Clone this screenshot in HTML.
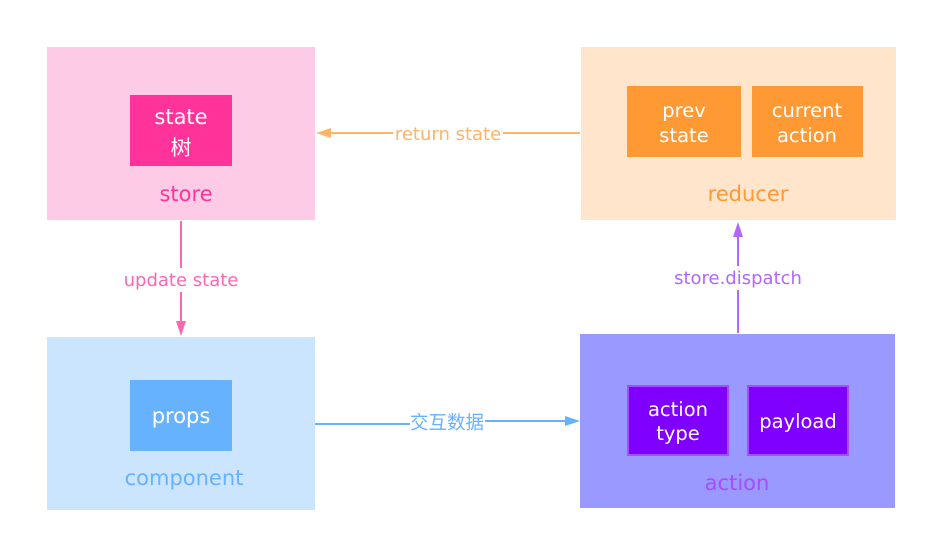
<!DOCTYPE html>
<html><head><meta charset="utf-8"><style>body{margin:0;background:#fff}svg{display:block}text{font-family:"DejaVu Sans","Noto Sans CJK SC",sans-serif;text-anchor:middle}</style></head><body>
<svg width="926" height="542" viewBox="0 0 926 542" xmlns="http://www.w3.org/2000/svg">
<rect x="47" y="47" width="268" height="173" fill="#fdcbe5"/>
<rect x="130" y="95" width="102" height="71" fill="#ff3399"/>
<text x="181" y="124" font-size="21" fill="#fff">state</text>
<text x="181" y="155" font-size="21" fill="#fff">树</text>
<text x="186" y="201" font-size="21" fill="#ff3399">store</text>

<rect x="581" y="47" width="315" height="173" fill="#ffe5cc"/>
<rect x="627" y="86" width="114" height="71" fill="#ff9933"/>
<rect x="752" y="86" width="111" height="71" fill="#ff9933"/>
<text x="684" y="117" font-size="19.5" fill="#fff">prev</text>
<text x="684" y="142" font-size="19.5" fill="#fff">state</text>
<text x="807" y="117" font-size="19.5" fill="#fff">current</text>
<text x="807" y="142" font-size="19.5" fill="#fff">action</text>
<text x="748" y="201" font-size="21" fill="#ff9933">reducer</text>

<rect x="47" y="337" width="268" height="173" fill="#cce5ff"/>
<rect x="130" y="380" width="102" height="71" fill="#66b2ff"/>
<text x="181" y="423" font-size="21" fill="#fff">props</text>
<text x="184" y="485" font-size="21" fill="#66b2ff">component</text>

<rect x="580" y="334" width="315" height="174" fill="#9999ff"/>
<rect x="628" y="386" width="100" height="69" fill="#7f00ff" stroke="#a64dff" stroke-width="2"/>
<rect x="748" y="386" width="100" height="69" fill="#7f00ff" stroke="#a64dff" stroke-width="2"/>
<text x="678" y="416" font-size="19.5" fill="#fff">action</text>
<text x="678" y="440" font-size="19.5" fill="#fff">type</text>
<text x="798" y="428" font-size="19.5" fill="#fff">payload</text>
<text x="737" y="490" font-size="21" fill="#a64dff">action</text>

<line x1="580" y1="133" x2="325" y2="133" stroke="#ffb366" stroke-width="2"/>
<polygon points="316,133 331,128 331,138" fill="#ffb366"/>
<rect x="393" y="122" width="110" height="22" fill="#fff"/>
<text x="448" y="140" font-size="18" fill="#ffb366">return state</text>

<line x1="181" y1="221" x2="181" y2="326" stroke="#ff66b2" stroke-width="2"/>
<polygon points="181,336 176,321 186,321" fill="#ff66b2"/>
<rect x="122" y="268" width="118" height="24" fill="#fff"/>
<text x="181" y="286" font-size="18" fill="#ff66b2">update state</text>

<line x1="738" y1="333" x2="738" y2="232" stroke="#b266ff" stroke-width="2"/>
<polygon points="738,222 733,237 743,237" fill="#b266ff"/>
<rect x="672" y="266" width="132" height="24" fill="#fff"/>
<text x="738" y="284" font-size="18" fill="#b266ff">store.dispatch</text>

<line x1="315" y1="424" x2="410" y2="424" stroke="#66b2ff" stroke-width="2"/>
<line x1="485" y1="421" x2="568" y2="421" stroke="#66b2ff" stroke-width="2"/>
<polygon points="580,421 565,416 565,426" fill="#66b2ff"/>
<text x="447" y="429" font-size="18.5" fill="#66b2ff">交互数据</text>
</svg>
</body></html>
